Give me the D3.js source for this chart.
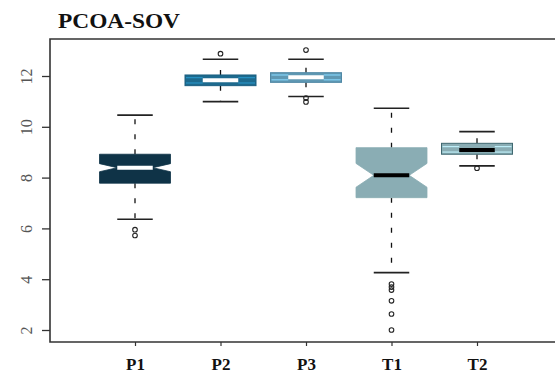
<!DOCTYPE html>
<html>
<head>
<meta charset="utf-8">
<script src="https://cdn.jsdelivr.net/npm/d3@7"></script>
<style>
  body { margin: 0; background: #fff; }
</style>
</head>
<body>
<div id="chart"></div>
<script>
  // Data

  var groups = ["P1", "P2", "P3", "T1", "T2"];
  var whiskerLo = [6.36, 10.99, 11.19, 4.26, 8.46];
  var q1 = [7.78, 11.62, 11.75, 7.21, 8.92];
  var medians = [8.39, 11.83, 11.95, 8.09, 9.09];
  var q3 = [8.92, 12.04, 12.13, 9.18, 9.35];
  var whiskerHi = [10.46, 12.66, 12.66, 10.73, 9.81];
  var notchHalf = [0.16, 0.3, 0.25, 0.47, 0.3];
  var outliers = [
    [5.95, 5.72],
    [12.88],
    [13.02, 11.13, 10.98],
    [3.81, 3.69, 3.57, 3.15, 2.63, 2.0],
    [8.37]
  ];
  var yTicks = [2, 4, 6, 8, 10, 12];

  var fills = ["#0f3347", "#1d6a8e", "#5f98b3", "#8aadb4", "#8aadb4"];
  var borders = ["#0f3347", "#1a5f80", "#4f88a5", "#8aadb4", "#3f6870"];
  var medianColors = ["#ffffff", "#ffffff", "#ffffff", "#000000", "#000000"];

  var width = 555, height = 376;
  var frame = {left: 50, top: 39, right: 562, bottom: 342};

  var svg = d3.select("#chart")
      .append("svg")
      .attr("width", width)
      .attr("height", height);

  // Scales

  var xScale = d3.scalePoint()
      .domain(groups)
      .range([135, 477]);

  var yScale = d3.scaleLinear()
      .domain([2, 12])
      .range([330, 76]);

  var boxW = 71;

  // Title

  svg.append("text")
    .attr("x", 58)
    .attr("y", 28)
    .attr("font-family", "Liberation Serif, Times New Roman, serif")
    .attr("font-weight", "bold")
    .attr("font-size", "20px")
    .attr("textLength", 122)
    .attr("lengthAdjust", "spacingAndGlyphs")
    .attr("fill", "#111")
    .text("PCOA-SOV");

  // Frame (left, top, bottom)

  svg.append("path")
    .attr("d", `M${frame.right},${frame.top}H${frame.left}V${frame.bottom}H${frame.right}`)
    .attr("fill", "none")
    .attr("stroke", "#333")
    .attr("stroke-width", 1.6);

  // Y axis

  var yAxis = svg.append("g")
      .attr("transform", `translate(${frame.left}, 0)`)
      .call(d3.axisLeft(yScale).tickValues(yTicks).tickSize(8).tickPadding(0).tickFormat(d3.format("d")));
  yAxis.select(".domain").remove();
  yAxis.selectAll(".tick line").attr("stroke", "#333").attr("stroke-width", 1.3);
  yAxis.selectAll(".tick text")
    .attr("x", null).attr("dy", null)
    .attr("text-anchor", "middle")
    .attr("transform", "translate(-18, 0) rotate(-90)")
    .attr("font-family", "Liberation Serif, Times New Roman, serif")
    .attr("font-size", "16px")
    .attr("fill", "#555");

  // X axis

  var xAxis = svg.append("g")
      .attr("transform", `translate(0, ${frame.bottom})`)
      .call(d3.axisBottom(xScale).tickSize(4).tickPadding(12));
  xAxis.select(".domain").remove();
  xAxis.selectAll(".tick line").attr("stroke", "#333").attr("stroke-width", 1.2);
  xAxis.selectAll(".tick text")
    .attr("font-family", "Liberation Serif, Times New Roman, serif")
    .attr("font-weight", "bold")
    .attr("font-size", "17px")
    .attr("fill", "#111");

  // Boxes

  var stats = groups.map(function(g, i) {
    return {
      name: g, lo: whiskerLo[i], q1: q1[i], med: medians[i], q3: q3[i], hi: whiskerHi[i],
      nlo: medians[i] - notchHalf[i], nhi: medians[i] + notchHalf[i],
      out: outliers[i], fill: fills[i], border: borders[i], medCol: medianColors[i]
    };
  });
  stats.forEach(function(d) { d.beyond = d.nlo < d.q1 || d.nhi > d.q3; });

  var box = svg.selectAll(".box")
      .data(stats)
      .enter().append("g")
      .attr("class", "box")
      .attr("transform", d => `translate(${xScale(d.name)}, 0)`);

  // whiskers
  box.append("line")
    .attr("y1", d => yScale(d.q3)).attr("y2", d => yScale(d.hi))
    .attr("stroke", "#111").attr("stroke-width", 1.3).attr("stroke-dasharray", "5,10");
  box.append("line")
    .attr("y1", d => yScale(d.q1)).attr("y2", d => yScale(d.lo))
    .attr("stroke", "#111").attr("stroke-width", 1.3).attr("stroke-dasharray", "5,10");

  // staples
  box.selectAll(".staple")
    .data(d => [d.lo, d.hi])
    .enter().append("line")
    .attr("x1", -boxW / 4).attr("x2", boxW / 4)
    .attr("y1", v => yScale(v)).attr("y2", v => yScale(v))
    .attr("stroke", "#222").attr("stroke-width", 1.6);

  var xl = -boxW / 2, xr = boxW / 2, nw = boxW / 4;

  // notched box where the notch sits inside the hinges
  box.filter(d => !d.beyond).append("path")
    .attr("d", function(d) {
      var pts = [
        [xl, d.q1], [xl, d.nlo], [xl + nw, d.med], [xl, d.nhi], [xl, d.q3],
        [xr, d.q3], [xr, d.nhi], [xr - nw, d.med], [xr, d.nlo], [xr, d.q1]
      ];
      return "M" + pts.map(p => p[0] + "," + yScale(p[1])).join("L") + "Z";
    })
    .attr("fill", d => d.fill)
    .attr("stroke", d => d.border)
    .attr("stroke-width", 0.8);

  // notch past the hinges: plain box with the folded notch showing as light stripes
  var flat = box.filter(d => d.beyond);
  flat.append("rect")
    .attr("x", xl)
    .attr("width", boxW)
    .attr("y", d => yScale(d.q3))
    .attr("height", d => yScale(d.q1) - yScale(d.q3))
    .attr("fill", d => d.fill)
    .attr("stroke", d => d.border)
    .attr("stroke-width", 1);
  flat.selectAll(".stripe")
    .data(function(d) {
      var ys = [(d.med + d.q3) / 2, (d.med + d.q1) / 2];
      var out = [];
      ys.forEach(function(v) {
        out.push({v: v, x1: xl + 1, x2: xl + nw, c: d.fill});
        out.push({v: v, x1: xr - nw, x2: xr - 1, c: d.fill});
      });
      return out;
    })
    .enter().append("line")
    .attr("x1", s => s.x1).attr("x2", s => s.x2)
    .attr("y1", s => yScale(s.v)).attr("y2", s => yScale(s.v))
    .attr("stroke", s => d3.color(s.c).brighter(0.9))
    .attr("stroke-width", 1.2);

  // median
  box.append("line")
    .attr("x1", -boxW / 4).attr("x2", boxW / 4)
    .attr("y1", d => yScale(d.med)).attr("y2", d => yScale(d.med))
    .attr("stroke", d => d.medCol)
    .attr("stroke-width", 4);

  // outliers
  box.selectAll(".out")
    .data(d => d.out)
    .enter().append("circle")
    .attr("cx", 0)
    .attr("cy", v => yScale(v))
    .attr("r", 2.3)
    .attr("fill", "none")
    .attr("stroke", "#222")
    .attr("stroke-width", 1.1);
</script>
</body>
</html>
